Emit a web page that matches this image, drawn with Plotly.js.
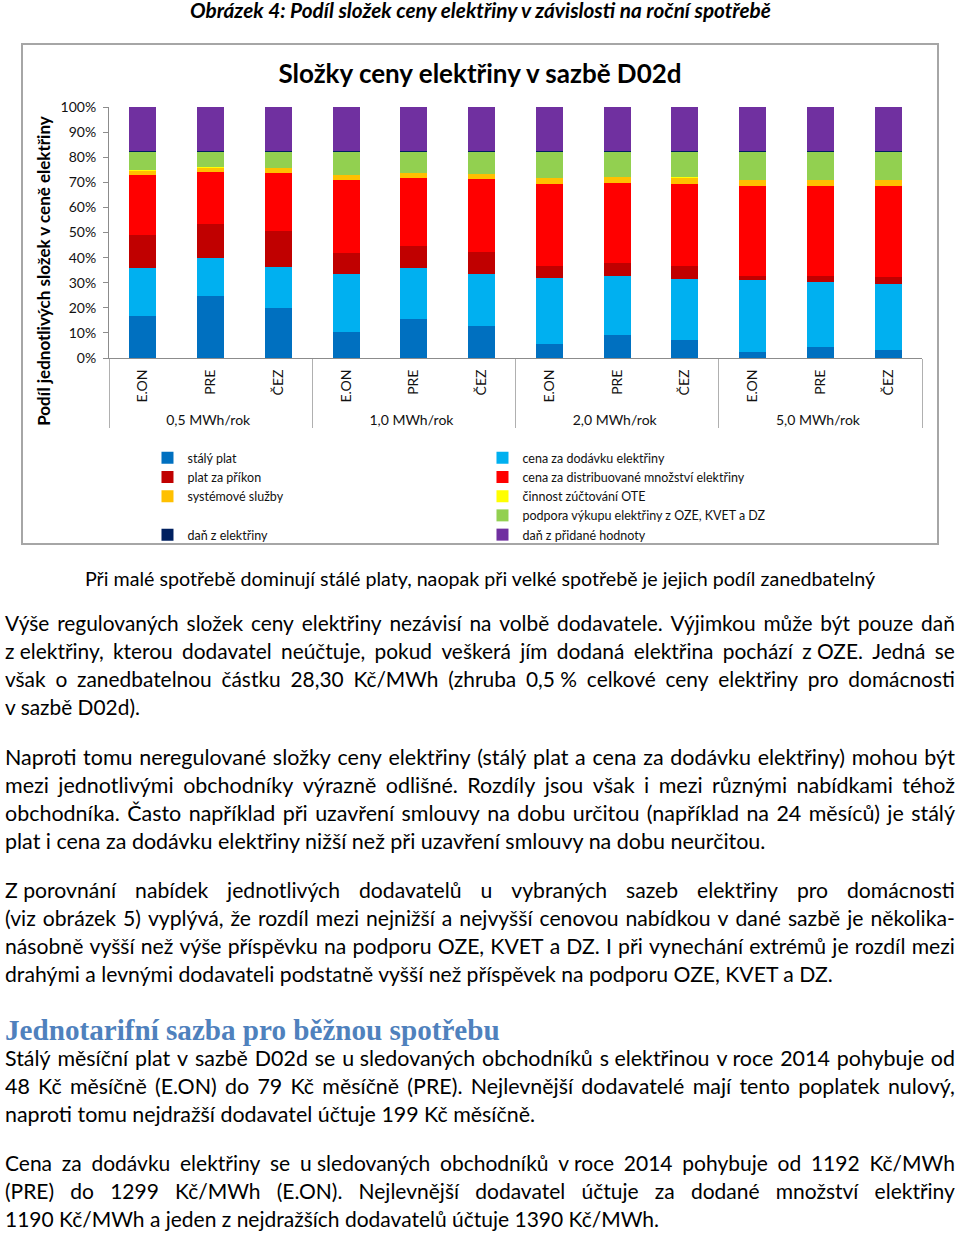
<!DOCTYPE html>
<html><head><meta charset="utf-8">
<script src="https://cdn.plot.ly/plotly-3.0.1.min.js"></script>
<style>
html,body{margin:0;padding:0;background:#fff;}
body{width:960px;height:1238px;position:relative;overflow:hidden;font-family:Lato,"Noto Sans",sans-serif;color:#000;}
.one{position:absolute;white-space:nowrap;line-height:1.05;transform-origin:0 0;}
#chartbox{position:absolute;left:21px;top:43px;width:918px;height:502px;box-sizing:border-box;border:2px solid #a6a6a6;}
#chart{width:914px;height:498px;}
.para{position:absolute;left:5px;width:950px;line-height:28px;transform-origin:0 0;}
.j{display:flex;justify-content:space-between;white-space:nowrap;}
.l{white-space:nowrap;}
.l span{display:inline;}
</style></head>
<body>
<div class="one" style="font-weight:bold;font-style:italic;" data-fs="16" data-w="581" data-cx="480.5" data-by="18">Obrázek 4: Podíl složek ceny elektřiny v závislosti na roční spotřebě</div>
<div id="chartbox"><div id="chart"></div></div>
<div class="one" data-fs="17" data-w="791" data-cx="480.5" data-by="586">Při malé spotřebě dominují stálé platy, naopak při velké spotřebě je jejich podíl zanedbatelný</div>

<div class="para" data-fs="18" data-lw="135" data-by="631">
<div class="j">Výše regulovaných složek ceny elektřiny nezávisí na volbě dodavatele. Výjimkou může být pouze daň</div>
<div class="j">z&nbsp;elektřiny, kterou dodavatel neúčtuje, pokud veškerá jím dodaná elektřina pochází z&nbsp;OZE. Jedná se</div>
<div class="j">však o zanedbatelnou částku 28,30 Kč/MWh (zhruba 0,5&nbsp;% celkové ceny elektřiny pro domácnosti</div>
<div class="l"><span>v sazbě D02d).</span></div>
</div>

<div class="para" data-fs="18" data-lw="761" data-by="765">
<div class="j">Naproti tomu neregulované složky ceny elektřiny (stálý plat a cena za dodávku elektřiny) mohou být</div>
<div class="j">mezi jednotlivými obchodníky výrazně odlišné. Rozdíly jsou však i mezi různými nabídkami téhož</div>
<div class="j">obchodníka. Často například při uzavření smlouvy na dobu určitou (například na 24 měsíců) je stálý</div>
<div class="l"><span>plat i cena za dodávku elektřiny nižší než při uzavření smlouvy na dobu neurčitou.</span></div>
</div>

<div class="para" data-fs="18" data-lw="828" data-by="898">
<div class="j">Z&nbsp;porovnání nabídek jednotlivých dodavatelů u vybraných sazeb elektřiny pro domácnosti</div>
<div class="j">(viz obrázek 5) vyplývá, že rozdíl mezi nejnižší a nejvyšší cenovou nabídkou v dané sazbě je několika-</div>
<div class="j">násobně vyšší než výše příspěvku na podporu OZE, KVET a DZ. I při vynechání extrémů je rozdíl mezi</div>
<div class="l"><span>drahými a levnými dodavateli podstatně vyšší než příspěvek na podporu OZE, KVET a DZ.</span></div>
</div>

<div class="one" style="font-family:'Liberation Serif','DejaVu Serif',serif;font-weight:bold;color:#4f81bd;" data-fs="27" data-w="495" data-x="5" data-by="1040">Jednotarifní sazba pro běžnou spotřebu</div>

<div class="para" data-fs="21" data-lw="530" data-cond="1" data-by="1066">
<div class="j">Stálý měsíční plat v sazbě D02d se u&nbsp;sledovaných obchodníků s&nbsp;elektřinou v&nbsp;roce 2014 pohybuje od</div>
<div class="j">48 Kč měsíčně (E.ON) do 79 Kč měsíčně (PRE). Nejlevnější dodavatelé mají tento poplatek nulový,</div>
<div class="l"><span>naproti tomu nejdražší dodavatel účtuje 199 Kč měsíčně.</span></div>
</div>

<div class="para" data-fs="21" data-lw="654" data-cond="1" data-by="1171">
<div class="j">Cena za dodávku elektřiny se u&nbsp;sledovaných obchodníků v&nbsp;roce 2014 pohybuje od 1192 Kč/MWh</div>
<div class="j">(PRE) do 1299 Kč/MWh (E.ON). Nejlevnější dodavatel účtuje za dodané množství elektřiny</div>
<div class="l"><span>1190 Kč/MWh a jeden z nejdražších dodavatelů účtuje 1390 Kč/MWh.</span></div>
</div>

<script>
// ---------- data ----------
var consumption = ["0,5 MWh/rok","0,5 MWh/rok","0,5 MWh/rok","1,0 MWh/rok","1,0 MWh/rok","1,0 MWh/rok","2,0 MWh/rok","2,0 MWh/rok","2,0 MWh/rok","5,0 MWh/rok","5,0 MWh/rok","5,0 MWh/rok"];
var suppliers = ["E.ON","PRE","ČEZ","E.ON","PRE","ČEZ","E.ON","PRE","ČEZ","E.ON","PRE","ČEZ"];
var stalyPlat      = [16.8,24.8,19.9,10.2,15.7,12.6, 5.7, 9.1, 7.3, 2.4, 4.2, 3.0];
var cenaDodavka    = [19.1,15.1,16.5,23.3,20.2,20.9,26.3,23.7,24.2,28.6,26.1,26.6];
var platPrikon     = [13.2,13.5,14.3, 8.2, 8.9, 8.9, 4.7, 5.0, 5.2, 1.8, 2.4, 2.6];
var cenaDistrib    = [24.0,20.9,23.1,29.4,26.9,29.0,32.7,32.0,32.8,35.6,35.7,36.2];
var systemSluzby   = [ 1.6, 1.5, 1.7, 1.8, 2.0, 2.0, 2.4, 2.3, 2.1, 2.6, 2.6, 2.6];
var cinnostOTE     = [ 0.1, 0.1, 0.1, 0.1, 0.1, 0.1, 0.1, 0.1, 0.5, 0.1, 0.1, 0.1];
var blankSeries    = [0,0,0,0,0,0,0,0,0,0,0,0];
var podporaOZE     = [ 7.4, 6.3, 6.6, 9.2, 8.4, 8.7,10.3,10.0,10.1,11.1,11.1,11.1];
var danElektrina   = [0.44,0.44,0.44,0.44,0.44,0.44,0.44,0.44,0.44,0.44,0.44,0.44];
var dph            = [17.36,17.36,17.36,17.36,17.36,17.36,17.36,17.36,17.36,17.36,17.36,17.36];
var seriesNames = ["stálý plat","cena za dodávku elektřiny","plat za příkon","cena za distribuované množství elektřiny","systémové služby","činnost zúčtování OTE"," ","podpora výkupu elektřiny z OZE, KVET a DZ","daň z elektřiny","daň z přidané hodnoty"];
var seriesValues = [stalyPlat,cenaDodavka,platPrikon,cenaDistrib,systemSluzby,cinnostOTE,blankSeries,podporaOZE,danElektrina,dph];
var seriesColors = ["#0070c0","#00b0f0","#c00000","#ff0000","#ffc000","#ffff00","rgba(0,0,0,0)","#92d050","#002060","#7030a0"];
var yTickVals = [0,10,20,30,40,50,60,70,80,90,100];
var yTickText = ["0%","10%","20%","30%","40%","50%","60%","70%","80%","90%","100%"];

var traces = seriesNames.map(function(n,i){
  return {type:'bar', name:n, x:[consumption,suppliers], y:seriesValues[i],
    marker:{color:seriesColors[i], line:{width:0}}, hoverinfo:'skip'};
});
var F = 'Lato, "Noto Sans", sans-serif';
var layout = {
  width:914, height:498, paper_bgcolor:'#fff', plot_bgcolor:'#fff',
  margin:{l:86,r:15,t:62,b:185},
  barmode:'stack', bargap:0.6,
  font:{family:F, size:13, color:'#111'},
  title:{text:'<b>Složky ceny elektřiny v sazbě D02d</b>', font:{family:F,size:26,color:'#000'},
         x:0.5, xref:'container', y:1-29/498, yref:'container', yanchor:'middle', xanchor:'center'},
  xaxis:{type:'multicategory', tickangle:-90, tickfont:{size:14,color:'#111'}, ticklabelstandoff:5,
         showline:true, linecolor:'#8c8c8c', linewidth:1, showgrid:false, zeroline:false,
         showdividers:true, dividercolor:'#b0b0b0', dividerwidth:1, ticks:''},
  yaxis:{range:[0,100], tickvals:yTickVals, ticktext:yTickText, showgrid:false, zeroline:false,
         showline:true, linecolor:'#8c8c8c', linewidth:1, ticks:'outside', ticklen:5, tickcolor:'#8c8c8c',
         tickfont:{size:14,color:'#111'}, ticklabelstandoff:4},
  showlegend:true,
  legend:{orientation:'h', xref:'container', yref:'container', x:0.1362, y:1-398/498,
          xanchor:'left', yanchor:'top', entrywidth:290, entrywidthmode:'pixels',
          traceorder:'normal', font:{size:12.5,color:'#111'}, itemwidth:30, bgcolor:'rgba(0,0,0,0)'},
  annotations:[{text:'<b>Podíl jednotlivých složek v ceně elektřiny</b>', textangle:-90, showarrow:false,
     xref:'paper', yref:'paper', x:-0.0800, y:0.347, xanchor:'center', yanchor:'middle',
     font:{family:F,size:17,color:'#000'}}]
};
Plotly.newPlot('chart', traces, layout, {displayModeBar:false, staticPlot:true});

// ---------- text layout ----------
function baselineOf(container){
  var pr=document.createElement('span');
  pr.style.cssText='display:inline-block;width:0;height:0;vertical-align:baseline;';
  container.appendChild(pr);
  var y=pr.getBoundingClientRect().top;
  container.removeChild(pr);
  return y;
}
function layoutText(){
  document.querySelectorAll('.one').forEach(function(el){
    var fs=+el.dataset.fs; el.style.fontSize=fs+'px'; el.style.left='0px'; el.style.top='0px';
    var w=el.getBoundingClientRect().width, tw=+el.dataset.w;
    fs=fs*tw/w; el.style.fontSize=fs+'px';
    var left = el.dataset.cx ? (+el.dataset.cx - tw/2) : +el.dataset.x;
    var off = baselineOf(el) - el.getBoundingClientRect().top;
    el.style.left=left+'px'; el.style.top=Math.max(0, +el.dataset.by - off)+'px';
  });
  document.querySelectorAll('.j').forEach(function(d){
    var t=d.textContent.trim(); d.textContent='';
    t.split(' ').forEach(function(wd){ if(!wd) return; var s=document.createElement('span'); s.textContent=wd; d.appendChild(s); });
  });
  document.querySelectorAll('.para').forEach(function(p){
    var fs=+p.dataset.fs; p.style.fontSize=fs+'px'; p.style.top='0px';
    var lastSpan=p.querySelector('.l span');
    var w=lastSpan.getBoundingClientRect().width, tw=+p.dataset.lw;
    if(p.dataset.cond){ var sx=tw/w; p.style.width=(950/sx)+'px'; p.style.transform='scaleX('+sx+')'; }
    else { p.style.fontSize=(fs*tw/w)+'px'; }
    var lines=p.children.length;
    var lastLine=p.querySelector('.l');
    var off = baselineOf(lastLine) - p.getBoundingClientRect().top - (lines-1)*28;
    p.style.top=(+p.dataset.by - off)+'px';
  });
}
layoutText();
</script>
</body></html>
